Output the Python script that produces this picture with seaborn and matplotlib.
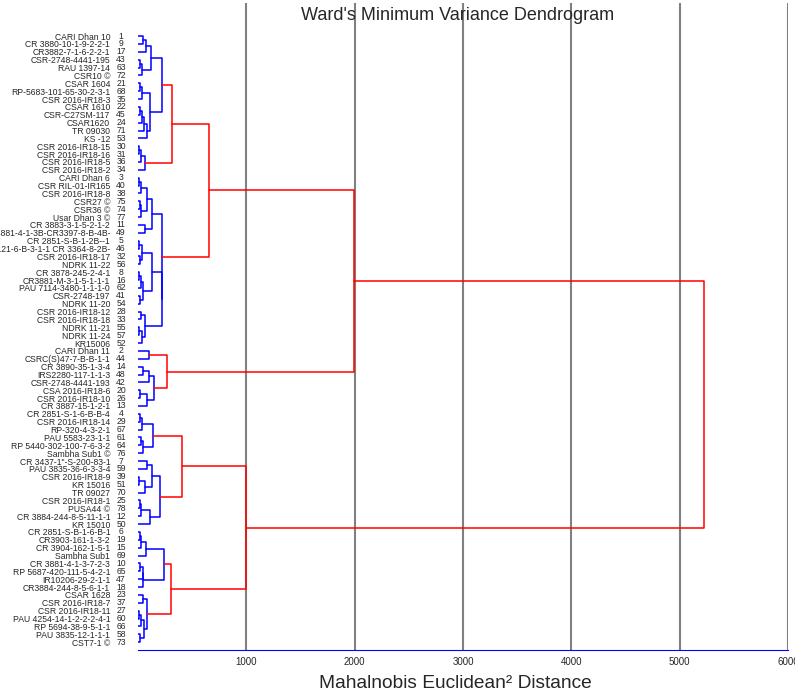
import matplotlib
matplotlib.use("Agg")
import matplotlib.pyplot as plt
import matplotlib.transforms as mtransforms
import seaborn as sns
import pandas as pd

# leaf labels, top to bottom
names = [
    "CARI Dhan 10", "CR 3880-10-1-9-2-2-1", "CR3882-7-1-6-2-2-1", "CSR-2748-4441-195",
    "RAU 1397-14", "CSR10 ©", "CSAR 1604", "RP-5683-101-65-30-2-3-1", "CSR 2016-IR18-3",
    "CSAR 1610", "CSR-C27SM-117", "CSAR1620", "TR 09030", "KS -12", "CSR 2016-IR18-15",
    "CSR 2016-IR18-16", "CSR 2016-IR18-5", "CSR 2016-IR18-2", "CARI Dhan 6",
    "CSR RIL-01-IR165", "CSR 2016-IR18-8", "CSR27 ©", "CSR36 ©", "Usar Dhan 3 ©",
    "CR 3883-3-1-5-2-1-2", "IR 84881-4-1-3B-CR3397-8-B-4B-", "CR 2851-S-B-1-2B--1",
    "IR 78121-6-B-3-1-1 CR 3364-8-2B-", "CSR 2016-IR18-17", "NDRK 11-22",
    "CR 3878-245-2-4-1", "CR3881-M-3-1-5-1-1-1", "PAU 7114-3480-1-1-1-0", "CSR-2748-197",
    "NDRK 11-20", "CSR 2016-IR18-12", "CSR 2016-IR18-18", "NDRK 11-21", "NDRK 11-24",
    "KR15006", "CARI Dhan 11", "CSRC(S)47-7-B-B-1-1", "CR 3890-35-1-3-4",
    "IRS2280-117-1-1-3", "CSR-2748-4441-193", "CSA 2016-IR18-6", "CSR 2016-IR18-10",
    "CR 3887-15-1-2-1", "CR 2851-S-1-6-B-B-4", "CSR 2016-IR18-14", "RP-320-4-3-2-1",
    "PAU 5583-23-1-1", "RP 5440-302-100-7-6-3-2", "Sambha Sub1 ©", "CR 3437-1\"-S-200-83-1",
    "PAU 3835-36-6-3-3-4", "CSR 2016-IR18-9", "KR 15016", "TR 09027", "CSR 2016-IR18-1",
    "PUSA44 ©", "CR 3884-244-8-5-11-1-1", "KR 15010", "CR 2851-S-B-1-6-B-1",
    "CR3903-161-1-3-2", "CR 3904-162-1-5-1", "Sambha Sub1", "CR 3881-4-1-3-7-2-3",
    "RP 5687-420-111-5-4-2-1", "IR10206-29-2-1-1", "CR3884-244-8-5-6-1-1", "CSAR 1628",
    "CSR 2016-IR18-7", "CSR 2016-IR18-11", "PAU 4254-14-1-2-2-2-4-1", "RP 5694-38-9-5-1-1",
    "PAU 3835-12-1-1-1", "CST7-1 ©",
]
numbers = [
    1, 9, 17, 43, 63, 72, 21, 68, 35, 22, 45, 24, 71, 53, 30, 31, 36, 34, 3, 40,
    38, 75, 74, 77, 11, 49, 5, 46, 32, 56, 8, 16, 62, 41, 54, 28, 33, 55, 57, 52,
    2, 44, 14, 48, 42, 20, 26, 13, 4, 29, 67, 61, 64, 76, 7, 59, 39, 51, 70, 25,
    78, 12, 50, 6, 19, 15, 69, 10, 65, 47, 18, 23, 37, 27, 60, 66, 58, 73,
]

# merge tree: (distance, left, right); ints are leaf rows counted from the top
a1 = (70, (50, 1, 2), 3)
a2 = (40, (20, 4, 5), 6)
a3 = (40, (15, 7, 8), 9)
a5 = (86, (55, (35, (20, 10, 11), 12), 13), 14)
A3 = (64, (30, (10, 15, 16), 17), 18)
A = (310, (222, (117, a1, a2), (110, a3, a5)), A3)

B1 = (126, (80, (25, (8, 19, 20), 21), (30, (20, 22, 23), 24)), (64, 25, 26))
B2a = (126, (40, (10, 27, 28), (15, 29, 30)), (50, (30, (5, 31, 32), 33), (20, 34, 35)))
B2b = (60, (30, 36, 37), (40, (10, 38, 39), 40))
B = (225, B1, (218, B2a, B2b))

C = (272, (101, 41, 42), (150, (101, (49, 43, 44), 45), (86, (15, 46, 47), 48)))

D1 = (141, (40, (20, 49, 50), 51), (50, (25, 52, 53), 54))
D2 = (202, (126, (80, 55, 56), (60, (10, 57, 58), 59)), (110, (30, (15, 60, 61), 62), 63))
D = (403, D1, D2)

E1 = (240, (71, (30, (15, 64, 65), 66), 67), (49, (42, (15, 68, 69), 70), 71))
E2 = (86, (43, 72, 73), (55, (30, (10, 74, 75), 76), (20, 77, 78)))
E = (300, E1, E2)

tree = (5220, (1990, (655, A, B), C), (995, D, E))

color_cut = 250
xticks = [1000, 2000, 3000, 4000, 5000, 6000]

# turn the tree into U-shaped links
rows = []


def walk(node):
    if isinstance(node, int):
        return node - 1, 0.0
    h, left, right = node
    yl, xl = walk(left)
    yr, xr = walk(right)
    seg = len(rows)
    col = "above" if h > color_cut else "below"
    for x, y in [(xl, yl), (h, yl), (h, yr), (xr, yr)]:
        rows.append(dict(seg=seg, x=x, y=y, col=col))
    return (yl + yr) / 2, h


walk(tree)
links = pd.DataFrame(rows)

sns.set_style("white")
plt.rcParams["font.family"] = ["Liberation Sans", "DejaVu Sans"]

fig = plt.figure(figsize=(7.95, 6.96), dpi=100)
ax = fig.add_axes([138 / 795, 46 / 696, 650 / 795, 647 / 696])

sns.lineplot(data=links, x="x", y="y", units="seg", estimator=None, sort=False,
             hue="col", palette={"above": "#ff0000", "below": "#0000ff"},
             legend=False, linewidth=1.1, ax=ax)

ax.set_xlim(0, 6000)
ax.set_ylim(78.0, -4.2)
ax.set_xticks(xticks)
ax.set_xticklabels([str(t) for t in xticks], fontsize=7)
ax.grid(axis="x", color="#808080", linewidth=1.5)
ax.set_axisbelow(True)
for s in ["top", "right", "left"]:
    ax.spines[s].set_visible(False)
ax.spines["bottom"].set_color("#0000ff")
ax.tick_params(axis="x", length=3, color="#0000ff", pad=2)
ax.set_xlabel("")
ax.set_ylabel("")

ax.set_yticks(range(len(names)))
ax.set_yticklabels(names, fontsize=6.2)
ax.tick_params(axis="y", length=0, pad=20)

trans = mtransforms.blended_transform_factory(ax.transAxes, ax.transData)
for i, n in enumerate(numbers):
    ax.text(-17 / 650, i, str(n), transform=trans, ha="center", va="center", fontsize=6.2)

fig.text(458 / 795, 1 - 15 / 696, "Ward's Minimum Variance Dendrogram",
         ha="center", va="center", fontsize=13)
fig.text(455 / 795, 1 - 683 / 696, "Mahalnobis Euclidean² Distance",
         ha="center", va="center", fontsize=13.8)

fig.savefig("out.png", dpi=100)
